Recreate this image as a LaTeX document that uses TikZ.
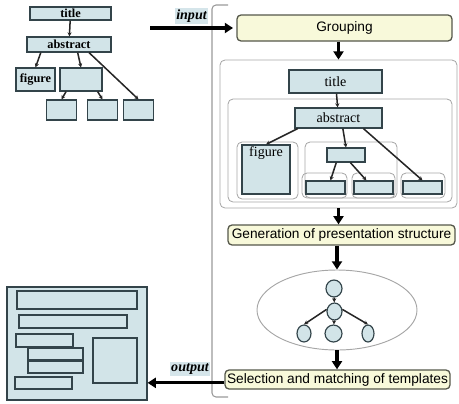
\documentclass[tikz,border=0pt]{standalone}
\usepackage{fontspec}
\setmainfont{Liberation Serif}
\newfontfamily\sansf{Liberation Sans}
\usetikzlibrary{arrows.meta,shapes.geometric}
\definecolor{lblue}{HTML}{D2E4E8}
\definecolor{bedge}{HTML}{33444A}
\definecolor{lyel}{HTML}{F8F9DA}
\definecolor{yedge}{HTML}{55574A}
\definecolor{tagbg}{HTML}{D5E5EA}
\tikzset{
  sz/.style 2 args={minimum width=#1*0.3mm, minimum height=#2*0.3mm},
  bb/.style={draw=bedge, fill=lblue, line width=1pt, inner sep=0pt},
  yb/.style={draw=yedge, fill=lyel, line width=1.1pt, rounded corners=1.2mm, inner sep=0pt,
    font=\sansf\fontsize{11.7}{13}\selectfont},
  grpbox/.style={draw=gray!70, line width=0.7pt, rounded corners=1.5mm, inner sep=0pt},
  tarr/.style={line width=1.3pt, draw=black!85, -{Stealth[length=3.5pt,width=3.5pt]}},
  barr/.style={line width=2.6pt, -{Triangle[length=7pt,width=8.5pt]}},
  tag/.style={fill=tagbg, inner sep=1pt, font=\bfseries\itshape\fontsize{12}{13}\selectfont},
  lt/.style={font=\bfseries\fontsize{10.5}{11}\selectfont},
  st/.style={font=\fontsize{12}{13}\selectfont},
}
\begin{document}
\begin{tikzpicture}[x=0.3mm, y=-0.3mm]
  \useasboundingbox (0,0) rectangle (459,403);

  % input document tree (top left)
  \node[bb, lt, sz={81}{13}] (ltit) at (70.5,13.5) {title};
  \node[bb, lt, sz={84}{15}] (labs) at (69,44.5) {abstract};
  \node[bb, lt, sz={39}{23}] (lfig) at (35.5,79.5) {figure};
  \node[bb, sz={42}{23}] (lmid) at (81,79.5) {};
  \foreach \n/\x in {1/61.5, 2/102.5, 3/138.5}
    \node[bb, sz={30}{20}] (lb\n) at (\x,110) {};
  \draw[tarr] (ltit) -- (labs);
  \draw[tarr] (labs.196) -- (lfig.north);
  \draw[tarr] (labs.317) -- (lmid.north);
  \draw[tarr] (labs.338) -- (lb3.north);
  \draw[tarr] (lmid.219) -- (lb1.north);
  \draw[tarr] (lmid.324) -- (lb2.north);

  % frame round the processing steps
  \draw[gray!80, line width=0.9pt, rounded corners=1.2mm] (228,5) -- (212,5) -- (212,397) -- (228,397);

  % input arrow
  \node[tag] (tin) at (191.5,16) {input};
  \coordinate (inS) at (150,28);
  \node[yb, sz={215}{26}] (grp) at (344.5,28) {Grouping};
  \draw[barr] (inS) -- ([xshift=-1mm]grp.west);

  % grouped structure
  \node[grpbox, sz={237}{148}] (pan) at (338.5,134) {};
  \node[grpbox, sz={224}{103}] (ing) at (340,150.5) {};
  \node[grpbox, sz={61}{57}] (gfig) at (267.5,170.5) {};
  \node[grpbox, sz={92}{56}] (gmid) at (351,170) {};
  \foreach \n/\x/\w in {1/324.5/45, 2/373.5/43, 3/423/44}
    \node[grpbox, sz={\w}{25}] (g\n) at (\x,185.5) {};
  \node[bb, st, sz={93}{23}] (tit) at (335.5,81.5) {title};
  \node[bb, st, sz={87}{20}] (abs) at (338.5,118) {abstract};
  \node[bb, sz={48}{49}, label={[anchor=north, st, inner sep=2pt]north:figure}] (fig) at (266,169.5) {};
  \node[bb, sz={38}{14}] (sm) at (346,155) {};
  \foreach \n/\x in {1/325.5, 2/373.5, 3/422.5}
    \node[bb, sz={39}{13}] (b\n) at (\x,187.5) {};
  \draw[tarr] (tit) -- (abs);
  \draw[tarr] ([xshift=1mm]abs.south west) -- (fig.north);
  \draw[tarr] ([xshift=1.3mm]abs.south) -- (sm.north);
  \draw[tarr] (abs.337) -- (b3.north);
  \draw[tarr] (sm.218) -- (b1.55);
  \draw[tarr] (sm.300) -- (b2.135);
  \draw[barr] (grp.south -| pan.north) -- (pan.north);

  % presentation structure
  \node[yb, sz={227}{20}] (gen) at (341.5,235) {Generation of presentation structure};
  \draw[barr] (pan.south) -- (pan.south |- gen.north);
  \node[ellipse, draw=gray!70, line width=0.8pt, sz={160}{80}] (ell) at (337,310) {};
  \foreach \n/\x/\y/\w in {0/334/288.5/16, 1/334.5/311.5/15, 2/304/333.5/14, 3/333.5/333.5/17, 4/368/333.5/12}
    \node[ellipse, bb, sz={\w}{17}] (c\n) at (\x,\y) {};
  \draw[tarr] (c0) -- (c1);
  \draw[tarr] (c1.165) -- (c2.north);
  \draw[tarr] (c1) -- (c3);
  \draw[tarr] (c1.15) -- (c4.north);
  \draw[barr] (gen.south -| ell.north) -- (ell.north);

  % templates
  \node[yb, sz={225}{19}] (sel) at (337.5,379.5) {Selection and matching of templates};
  \draw[barr] (ell.south) -- (ell.south |- sel.north);

  % output slide (bottom left)
  \node[bb, sz={140}{113}] (page) at (77,343.5) {};
  \foreach \n/\x/\y/\w/\h in {1/77/300/120/18, 2/73/321.5/108/13, 3/44.5/340.5/57/13,
      4/55.5/354/55/12, 5/55.5/367/55/12, 6/43.5/383/57/12, 7/115/360.5/44/45}
    \node[bb, sz={\w}{\h}] (p\n) at (\x,\y) {};
  \node[tag] (tout) at (190,369) {output};
  \coordinate (outS) at ([yshift=-1mm]sel.west);
  \draw[barr] (outS) -- (outS -| page.east);
\end{tikzpicture}
\end{document}
